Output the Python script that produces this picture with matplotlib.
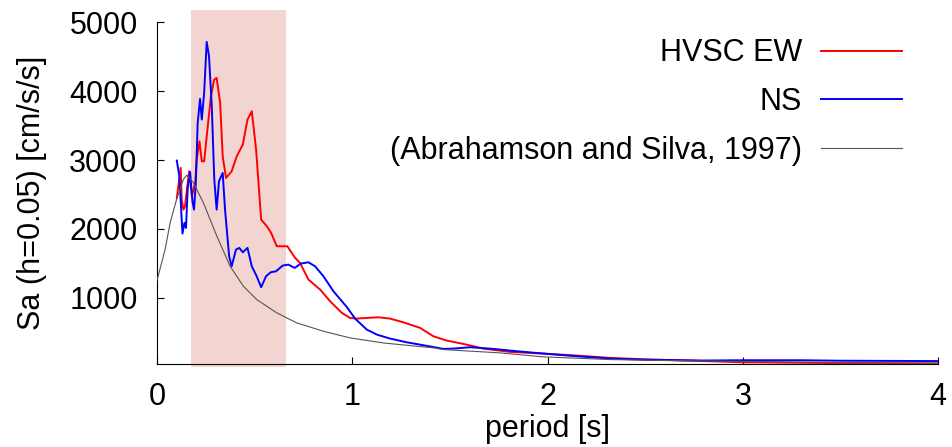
import matplotlib
matplotlib.use("Agg")
import matplotlib.pyplot as plt

plt.rcParams['font.family'] = ['Liberation Sans', 'DejaVu Sans']

# --- data (period [s], Sa [cm/s/s]) ---
ew_period = [0.101, 0.121, 0.126, 0.135, 0.143, 0.164, 0.178, 0.195, 0.203, 0.217,
             0.229, 0.241, 0.263, 0.276, 0.292, 0.305, 0.323, 0.336, 0.353, 0.382,
             0.408, 0.439, 0.463, 0.485, 0.507, 0.533, 0.562, 0.584, 0.613, 0.667,
             0.707, 0.732, 0.775, 0.835, 0.886, 0.946, 0.988, 1.022, 1.074, 1.133,
             1.193, 1.261, 1.347, 1.415, 1.483, 1.569, 1.671, 1.808, 1.978, 2.149,
             2.32, 2.5, 2.8, 3.0, 3.5, 4.0]
ew_sa = [2450, 2886, 2426, 2280, 2328, 2837, 2474, 2668, 3007, 3273,
         2982, 2982, 3588, 3926, 4168, 4193, 3830, 3055, 2740, 2837,
         3055, 3224, 3588, 3709, 3152, 2135, 2038, 1942, 1748, 1748,
         1578, 1506, 1264, 1118, 949, 780, 707, 697, 707, 716,
         697, 643, 562, 440, 378, 329, 261, 213, 189, 160,
         126, 105, 80, 62, 50, 45]

ns_period = [0.101, 0.114, 0.130, 0.140, 0.148, 0.157, 0.169, 0.181, 0.189, 0.198,
             0.208, 0.220, 0.229, 0.241, 0.254, 0.266, 0.280, 0.293, 0.305, 0.317,
             0.336, 0.348, 0.369, 0.382, 0.404, 0.421, 0.439, 0.463, 0.485, 0.510,
             0.533, 0.558, 0.582, 0.609, 0.643, 0.672, 0.705, 0.736, 0.775, 0.809,
             0.852, 0.903, 0.971, 1.014, 1.074, 1.125, 1.193, 1.278, 1.364, 1.466,
             1.517, 1.603, 1.722, 1.842, 1.978, 2.149, 2.32, 2.5, 2.8, 3.0,
             3.3, 3.5, 4.0]
ns_sa = [2992, 2764, 1932, 2087, 2014, 2595, 2828, 2401, 2280, 2643,
         3539, 3888, 3588, 3975, 4716, 4507, 3781, 2716, 2280, 2692,
         2813, 2280, 1602, 1457, 1699, 1724, 1660, 1724, 1457, 1312,
         1152, 1312, 1370, 1384, 1467, 1481, 1433, 1496, 1515, 1457,
         1312, 1094, 867, 697, 537, 465, 407, 353, 310, 257,
         261, 281, 257, 223, 189, 150, 116, 100, 88, 92,
         92, 85, 80]

as97_period = [0.0, 0.041, 0.067, 0.10, 0.135, 0.152, 0.186, 0.237, 0.306, 0.374,
               0.442, 0.51, 0.613, 0.715, 0.852, 0.988, 1.159, 1.295, 1.415, 1.466,
               1.756, 1.978, 2.32, 2.6, 3.0, 3.5, 4.0]
as97_sa = [1254, 1700, 2090, 2430, 2720, 2780, 2670, 2380, 1895, 1458,
           1167, 974, 780, 635, 513, 417, 343, 305, 272, 247,
           199, 141, 102, 88, 75, 60, 50]

band = (0.174, 0.66)  # shaded period range
band_top = 5175

labels = ["HVSC EW", "NS", "(Abrahamson and Silva, 1997)"]

fig = plt.figure(figsize=(9.52, 4.47), dpi=100)
ax = fig.add_axes([0.165, 0.185, 0.8205, 0.765])

ax.fill_between(band, [0, 0], [band_top, band_top], color="#f2d5d0", lw=0,
                clip_on=False, zorder=0)

ax.plot(ew_period, ew_sa, color="#ff0000", lw=1.4, label=labels[0], zorder=3)
ax.plot(ns_period, ns_sa, color="#0000ff", lw=1.4, label=labels[1], zorder=3)
ax.plot(as97_period, as97_sa, color="#555555", lw=0.8, label=labels[2], zorder=4)

ax.set_xlim(0, 4)
ax.set_ylim(33, 5000)
ax.set_xticks([0, 1, 2, 3, 4])
ax.set_yticks([1000, 2000, 3000, 4000, 5000])
ax.tick_params(direction="in", length=5, width=0.8, labelsize=22)
ax.tick_params(axis="y", pad=14)
ax.tick_params(axis="x", pad=13)
ax.spines["top"].set_visible(False)
ax.spines["right"].set_visible(False)

ax.set_xlabel("period [s]", fontsize=22, labelpad=1)
ax.set_ylabel("Sa (h=0.05) [cm/s/s]", fontsize=22, labelpad=16)

ax.legend(loc="upper right", bbox_to_anchor=(0.9475, 0.9145), bbox_transform=fig.transFigure,
          frameon=False, markerfirst=False, fontsize=22, handlelength=2.65,
          handletextpad=0.62, labelspacing=0.62, borderpad=0, borderaxespad=0)

fig.savefig("out.png", dpi=100)
